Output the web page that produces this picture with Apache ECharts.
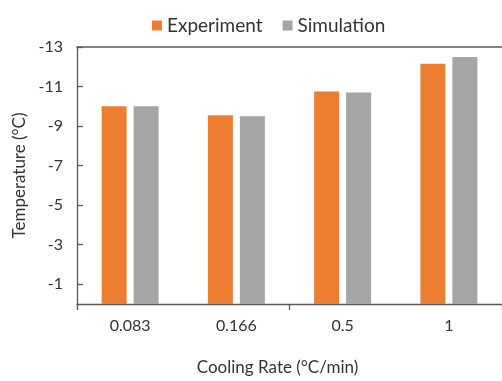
<!DOCTYPE html>
<html>
<head>
<meta charset="utf-8">
<title>Temperature vs Cooling Rate</title>
<script src="https://cdn.jsdelivr.net/npm/echarts@6/dist/echarts.min.js"></script>
<style>
  html, body { margin: 0; padding: 0; background: #fff; }
  #chart { width: 502px; height: 381px; }
</style>
</head>
<body>
<div id="chart"></div>
<script>
// Cooling rates (°C/min) and the temperatures reached (°C)
const categories = ['0.083', '0.166', '0.5', '1'];
const experiment = [-10.0, -9.55, -10.75, -12.15];
const simulation = [-10.0, -9.5, -10.7, -12.5];

const FONT = 'Lato, "Open Sans", sans-serif';
const TEXT = '#333333';
const LINE = '#595959';

const chart = echarts.init(document.getElementById('chart'), null, { renderer: 'canvas' });

chart.setOption({
  animation: false,
  textStyle: { fontFamily: FONT },
  legend: {
    left: 147,
    top: 11,
    itemWidth: 10,
    itemHeight: 10,
    itemGap: 20,
    icon: 'rect',
    textStyle: { fontFamily: FONT, fontSize: 19, color: TEXT },
    data: ['Experiment', 'Simulation']
  },
  grid: { left: 77, top: 47, width: 434, height: 262, containLabel: false },
  xAxis: [
    {
      type: 'category',
      data: categories,
      position: 'bottom',
      axisLine: { lineStyle: { color: LINE, width: 1.3 } },
      axisTick: { show: true, interval: 1, length: 6, lineStyle: { color: LINE, width: 1.3 } },
      axisLabel: { fontFamily: FONT, fontSize: 16, color: TEXT, margin: 14 },
      name: 'Cooling Rate (°C/min)',
      nameLocation: 'middle',
      nameGap: 55,
      nameTextStyle: { fontFamily: FONT, fontSize: 17, color: TEXT, padding: [0, 24, 0, 0] }
    },
    {
      type: 'category',
      data: categories,
      position: 'top',
      axisLine: { lineStyle: { color: LINE, width: 1.5 } },
      axisTick: { show: false },
      axisLabel: { show: false }
    }
  ],
  yAxis: {
    type: 'value',
    inverse: true,
    min: -13,
    max: 0,
    interval: 2,
    axisLine: { show: true, lineStyle: { color: LINE, width: 1.3 } },
    axisTick: { show: true, inside: true, length: 6, lineStyle: { color: LINE, width: 1.3 } },
    axisLabel: { fontFamily: FONT, fontSize: 16, color: TEXT, margin: 14, showMaxLabel: false },
    splitLine: { show: false },
    name: 'Temperature (°C)',
    nameLocation: 'middle',
    nameGap: 47,
    nameTextStyle: { fontFamily: FONT, fontSize: 17, color: TEXT }
  },
  series: [
    {
      name: 'Experiment',
      type: 'bar',
      xAxisIndex: 0,
      data: experiment,
      barWidth: 25,
      barGap: '28%',
      itemStyle: { color: '#ED7D31' }
    },
    {
      name: 'Simulation',
      type: 'bar',
      xAxisIndex: 0,
      data: simulation,
      barWidth: 25,
      itemStyle: { color: '#A5A5A5' }
    }
  ]
});
</script>
</body>
</html>
